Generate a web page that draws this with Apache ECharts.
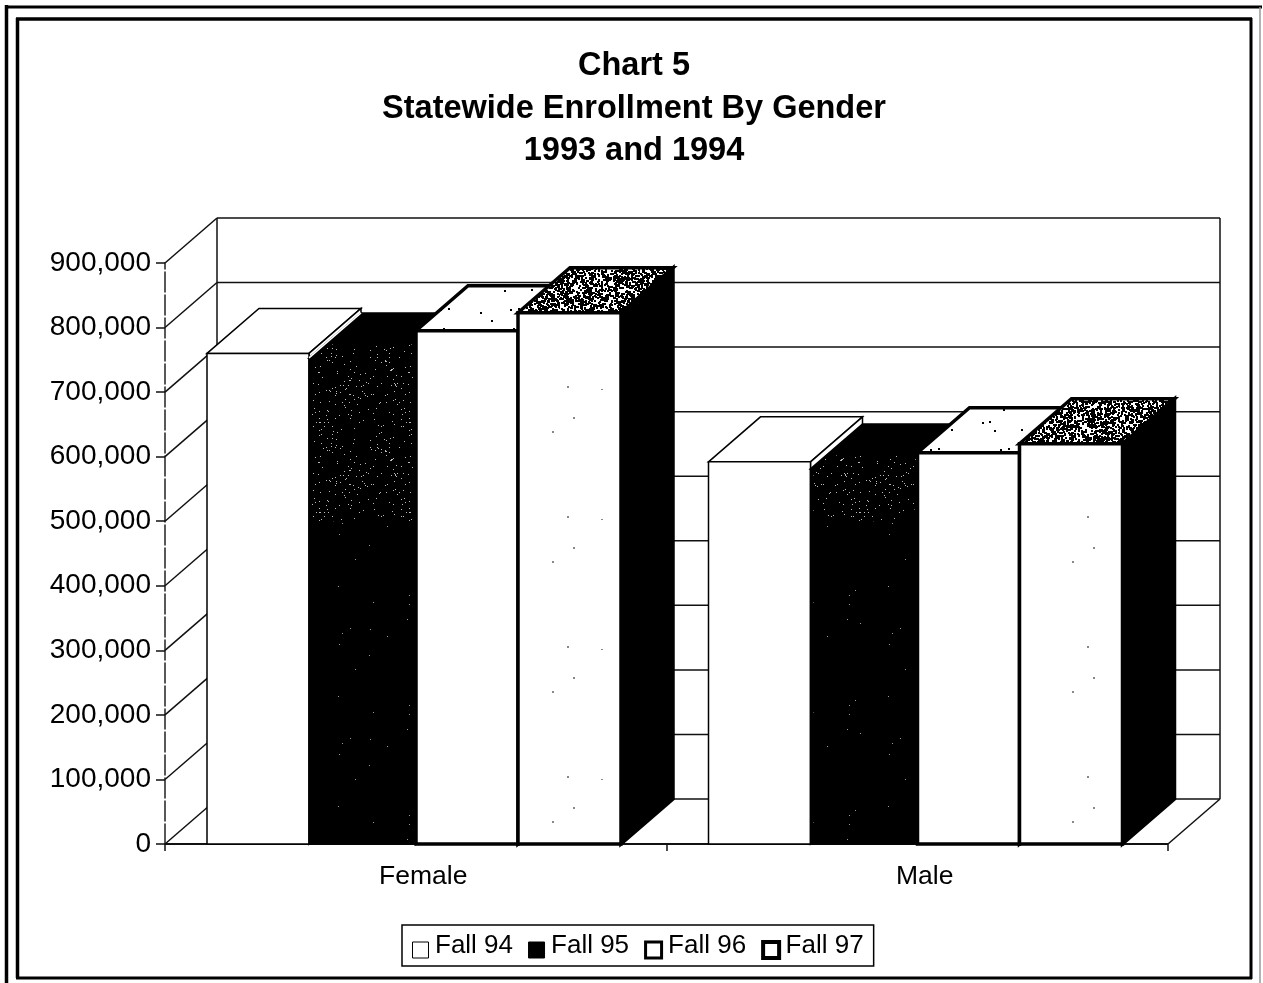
<!DOCTYPE html>
<html>
<head>
<meta charset="utf-8">
<style>html,body{margin:0;padding:0;background:#fff;overflow:hidden}#c{width:1263px;height:983px}</style>
<script src="https://cdn.jsdelivr.net/npm/echarts@6/dist/echarts.min.js"></script>
</head>
<body>
<div id="c"></div>
<script>
const categories = ['Female', 'Male'];
const fall94 = [760000, 592000];
const fall95 = [753000, 581000];
const fall96 = [795000, 606000];
const fall97 = [823000, 620000];
const seriesNames = ['Fall 94', 'Fall 95', 'Fall 96', 'Fall 97'];
const yTicks = [0, 100000, 200000, 300000, 400000, 500000, 600000, 700000, 800000, 900000];

const FONT = '"Liberation Sans", Arial, sans-serif';
const DX = 52, DY = -45;
const GROUP_LEFT = 42;
const BAR_OFFSETS = [0, 102, 209, 311];
const BAR_WIDTHS = [102, 107, 102, 103];

function speckle(bg, fg, n, dot, size, seed) {
  const c = document.createElement('canvas');
  c.width = c.height = size;
  const g = c.getContext('2d');
  if (bg) { g.fillStyle = bg; g.fillRect(0, 0, size, size); }
  g.fillStyle = fg;
  let s = seed || 12345;
  const next = () => { s = (s * 1103515245 + 12345) % 2147483648; return Math.floor(s / 65536); };
  for (let i = 0; i < n; i++) {
    const x = next() % size, y = next() % size;
    g.fillRect(x, y, dot, dot);
  }
  return { image: c, repeat: 'repeat' };
}
const denseWhite = speckle(null, '#bbb', 190, 1, 90, 77);
const sparseWhite = speckle(null, '#999', 14, 1, 110, 991);
const blackDots = speckle('#fff', '#000', 16, 2, 70, 4242);
const sparseBlack = speckle(null, '#888', 5, 2, 130, 31);
const heavyTop = speckle('#fff', '#000', 1700, 2, 80, 1234);

const faceStyles = [
  { top: '#fff', side: '#fff', front: '#fff', stroke: '#000', lw: 1.5 },
  { top: '#000', side: '#000', front: '#000', stroke: '#000', lw: 1.5, topOverlay: denseWhite, band: denseWhite, rest: sparseWhite, seam: '#fff' },
  { top: blackDots, side: '#000', front: '#fff', stroke: '#000', lw: 3.5 },
  { top: heavyTop, side: '#000', front: '#fff', stroke: '#000', lw: 3.5, frontOverlay: sparseBlack }
];

function wallItem(params, api) {
  const v = api.value(0);
  const left = api.coord([0, v]);
  const band = api.size([1, 0])[0];
  const x0 = left[0] - band / 2, x1 = x0 + band * categories.length, y = left[1];
  const line = (a, b, c, d, w) => ({
    type: 'line', shape: { x1: a, y1: b, x2: c, y2: d },
    style: { stroke: '#111', lineWidth: w || 1.5 }
  });
  const kids = [
    line(x0, y, x0 + DX, y + DY),
    line(x0 + DX, y + DY, x1 + DX, y + DY)
  ];
  if (v === 0) {
    const top = api.coord([0, yTicks[yTicks.length - 1]])[1];
    kids.push(line(x0 + DX, y + DY, x0 + DX, top + DY));
    kids.push(line(x1 + DX, y + DY, x1 + DX, top + DY));
    kids.push(line(x1, y, x1 + DX, y + DY));
    kids.push(line(x0, y, x1, y, 2));
  }
  return { type: 'group', children: kids };
}

function barRenderer(idx) {
  const st = faceStyles[idx];
  return function (params, api) {
    const cat = api.value(0), val = api.value(1);
    const c = api.coord([cat, val]);
    const base = api.coord([cat, 0])[1];
    const band = api.size([1, 0])[0];
    const xl = c[0] - band / 2 + GROUP_LEFT + BAR_OFFSETS[idx];
    const xr = xl + BAR_WIDTHS[idx], yt = c[1];
    const poly = (pts, fill, stroke, lw) => ({
      type: 'polygon', shape: { points: pts },
      style: { fill: fill, stroke: stroke || null, lineWidth: lw || 0, lineJoin: 'miter' }
    });
    const topPts = [[xl, yt], [xl + DX, yt + DY], [xr + DX, yt + DY], [xr, yt]];
    const kids = [
      poly(topPts, st.top, st.stroke, st.lw),
      poly([[xr, yt], [xr + DX, yt + DY], [xr + DX, base + DY], [xr, base]], st.side, st.stroke, st.lw),
      poly([[xl, yt], [xr, yt], [xr, base], [xl, base]], st.front, st.stroke, st.lw)
    ];
    if (st.topOverlay) {
      kids.push(poly([[xl, yt], [xl + DX * 0.3, yt + DY * 0.3], [xr + DX * 0.3, yt + DY * 0.3], [xr, yt]], st.topOverlay));
    }
    if (st.band) {
      const mid = api.coord([cat, 500000])[1];
      kids.push(poly([[xl + 3, yt + 2], [xr - 3, yt + 2], [xr - 3, mid], [xl + 3, mid]], st.band));
      kids.push(poly([[xl + 3, mid], [xr - 3, mid], [xr - 3, base - 3], [xl + 3, base - 3]], st.rest));
    }
    if (st.frontOverlay) {
      kids.push(poly([[xl + 4, yt + 4], [xr - 4, yt + 4], [xr - 4, base - 4], [xl + 4, base - 4]], st.frontOverlay));
    }
    if (st.seam && cat === 0) {
      kids.push({ type: 'line', shape: { x1: xl, y1: yt, x2: xl + DX, y2: yt + DY }, style: { stroke: st.seam, lineWidth: 1.5 } });
    }
    return { type: 'group', children: kids };
  };
}

const seriesValues = [fall94, fall95, fall96, fall97];
const series = [{
  type: 'custom', name: 'walls', silent: true, z: 1,
  coordinateSystem: 'cartesian2d', renderItem: wallItem,
  encode: { y: 0 }, data: yTicks.map(t => [t])
}];
seriesValues.forEach((vals, i) => {
  series.push({
    type: 'custom', name: seriesNames[i], silent: true, z: 2 + i,
    coordinateSystem: 'cartesian2d', renderItem: barRenderer(i),
    encode: { x: 0, y: 1 },
    itemStyle: { color: i === 1 ? '#000' : '#fff' },
    data: vals.map((v, k) => [k, v])
  });
});

const legendIcons = [
  { color: '#fff', borderColor: '#000', borderWidth: 1 },
  { color: '#000', borderColor: '#000', borderWidth: 1 },
  { color: '#fff', borderColor: '#000', borderWidth: 3 },
  { color: '#fff', borderColor: '#000', borderWidth: 4 }
];
// square in the lower part of the icon box; the empty first subpath stretches the box upward
const LEGEND_ICON = 'path://M0 0L0 0M0 8H16V24H0Z';

const frame = (x1, y1, x2, y2, w, col) => ({
  type: 'line', silent: true, z: 0,
  shape: { x1, y1, x2, y2 }, style: { stroke: col || '#000', lineWidth: w }
});

const chart = echarts.init(document.getElementById('c'), null, { renderer: 'canvas', width: 1263, height: 983 });
chart.setOption({
  animation: false,
  backgroundColor: '#fff',
  textStyle: { fontFamily: FONT, color: '#000' },
  title: {
    text: 'Chart 5\nStatewide Enrollment By Gender\n1993 and 1994',
    left: 629, top: 40, textAlign: 'center',
    textStyle: { fontFamily: FONT, fontSize: 32.5, fontWeight: 'bold', color: '#000', lineHeight: 42.5 }
  },
  legend: {
    left: 402, top: 925, orient: 'horizontal',
    padding: [7, 10, 6, 10],
    itemGap: 15, itemWidth: 17, itemHeight: 24,
    icon: LEGEND_ICON, selectedMode: false,
    borderColor: '#000', borderWidth: 1.5, backgroundColor: '#fff',
    textStyle: { fontFamily: FONT, fontSize: 26, color: '#000', padding: [0, 0, 0, 1] },
    data: seriesNames.map((n, i) => ({ name: n, itemStyle: legendIcons[i] }))
  },
  grid: { left: 165, top: 263, width: 1003, height: 581, containLabel: false },
  xAxis: {
    type: 'category', data: categories,
    axisLine: { show: false },
    axisTick: { show: true, alignWithLabel: false, length: 7, lineStyle: { color: '#111', width: 1.5 } },
    axisLabel: { fontFamily: FONT, fontSize: 26.5, color: '#000', margin: 19, padding: [0, 0, 0, 15] }
  },
  yAxis: {
    type: 'value', min: 0, max: 900000, interval: 100000,
    axisLine: { show: true, lineStyle: { color: '#222', width: 1.5, type: [20, 3] } },
    axisTick: { show: true, length: 9, lineStyle: { color: '#111', width: 1.5 } },
    axisLabel: { fontFamily: FONT, fontSize: 28, color: '#000', margin: 14, formatter: v => v.toLocaleString('en-US') },
    splitLine: { show: false }
  },
  graphic: [
    frame(6.5, 5, 6.5, 983, 3.5),
    frame(5, 7, 1262, 7, 3),
    frame(1260, 7, 1260, 983, 1.5, '#999'),
    frame(17.5, 18, 17.5, 978, 3.5),
    frame(16, 19, 1252, 19, 3.5),
    frame(1251, 18, 1251, 979, 3),
    frame(16, 978, 1252, 978, 3)
  ],
  series
});
</script>
</body>
</html>
